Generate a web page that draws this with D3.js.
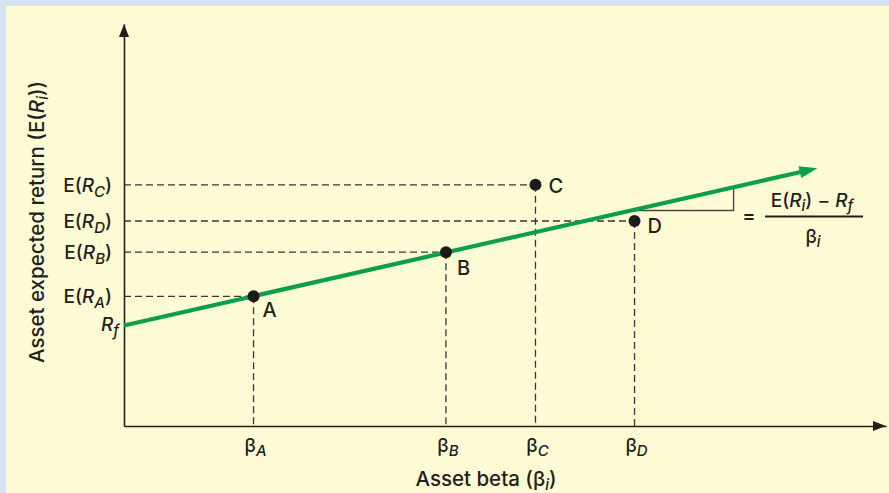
<!DOCTYPE html>
<html><head><meta charset="utf-8">
<script src="https://cdn.jsdelivr.net/npm/d3@7"></script>
<style>
body{margin:0;background:#fff}
svg{display:block}
text{font-family:Inter,"Liberation Sans",Arial,Helvetica,sans-serif;font-weight:500;fill:#231f20}
</style>
</head><body>
<svg id="chart" width="889" height="493"></svg>
<script>
// ---- data ----
const categories = ["A", "B", "C", "D"];
const betas = [0.34, 0.845, 1.08, 1.34];
const expectedReturns = [6.45, 8.65, 12.0, 10.2];
const riskFree = 5.0;
const marketPremium = 4.3;       // slope of the SML
const smlEndBeta = 1.82;
const slopeTriangleBetas = [1.33, 1.6];
const xDomain = [0, 2];
const yDomain = [0, 20];

// ---- layout ----
const W = 889, H = 493;
const svg = d3.select("#chart");
const ink = "#231f20";
const green = "#0aa04b";
const FS = 19, TFS = 20.5;

svg.append("rect").attr("width", W).attr("height", H).attr("fill", "#d4e3ed");
svg.append("rect").attr("x", 6).attr("y", 6).attr("width", W - 6).attr("height", H - 6).attr("fill", "#fffbd4");

const x = d3.scaleLinear().domain(xDomain).range([124, 886]);
const y = d3.scaleLinear().domain(yDomain).range([426, 24]);
const sml = b => riskFree + marketPremium * b;

function rich(sel, parts) {
  parts.forEach(p => {
    const t = sel.append("tspan").text(p.t);
    if (p.i) t.attr("font-style", "italic");
    if (p.sub) t.attr("font-size", p.fs || 15).attr("dy", p.dy || 5);
    if (p.up) t.attr("dy", -p.up);
  });
  return sel;
}

// dashed guides
const pts = categories.map((c, i) => ({ c, b: betas[i], r: expectedReturns[i] }));
const guides = svg.append("g").attr("stroke", "#3a3536").attr("stroke-width", 1.3).attr("stroke-dasharray", "7,4").attr("fill", "none");
pts.forEach(p => {
  guides.append("line").attr("x1", x(0)).attr("x2", x(p.b)).attr("y1", y(p.r)).attr("y2", y(p.r));
  guides.append("line").attr("x1", x(p.b)).attr("x2", x(p.b)).attr("y1", y(p.r)).attr("y2", y(0));
});

// axes
const xAxis = svg.append("g").attr("transform", `translate(0,${y(0)})`)
  .call(d3.axisBottom(x).tickValues([]).tickSizeOuter(0));
const yAxis = svg.append("g").attr("transform", `translate(${x(0)},0)`)
  .call(d3.axisLeft(y).tickValues([]).tickSizeOuter(0));
[xAxis, yAxis].forEach(a => a.select(".domain").attr("stroke", ink).attr("stroke-width", 1.6));
const xEnd = x.range()[1], yEnd = y.range()[1];
svg.append("path").attr("d", `M${xEnd},${y(0)} L${xEnd - 13},${y(0) - 5} L${xEnd - 13},${y(0) + 5} Z`).attr("fill", ink);
svg.append("path").attr("d", `M${x(0)},${yEnd} L${x(0) - 5},${yEnd + 13} L${x(0) + 5},${yEnd + 13} Z`).attr("fill", ink);

// slope triangle
const [tb0, tb1] = slopeTriangleBetas;
svg.append("path")
  .attr("d", `M${x(tb0)},${y(sml(tb0))} H${x(tb1)} V${y(sml(tb1))}`)
  .attr("fill", "none").attr("stroke", "#4a4546").attr("stroke-width", 1.4);

// SML line with arrow
const x0 = x(0), y0 = y(sml(0)), x1 = x(smlEndBeta), y1 = y(sml(smlEndBeta));
const ang = Math.atan2(y1 - y0, x1 - x0);
const headL = 18, headW = 6;
const bx = x1 - headL * Math.cos(ang), by = y1 - headL * Math.sin(ang);
svg.append("line").attr("x1", x0).attr("y1", y0).attr("x2", bx + 2 * Math.cos(ang)).attr("y2", by + 2 * Math.sin(ang))
  .attr("stroke", green).attr("stroke-width", 4.2);
svg.append("path").attr("fill", green)
  .attr("d", `M${x1},${y1} L${bx - headW * Math.sin(ang)},${by + headW * Math.cos(ang)} L${bx + headW * Math.sin(ang)},${by - headW * Math.cos(ang)} Z`);

// points
svg.append("g").selectAll("circle").data(pts).join("circle")
  .attr("cx", d => x(d.b)).attr("cy", d => y(d.r)).attr("r", 6).attr("fill", "#1c1a1b");

// point labels
const labelOffsets = { A: [9, 21], B: [11, 23], C: [13, 8], D: [13, 12] };
svg.append("g").selectAll("text").data(pts).join("text")
  .attr("x", d => x(d.b) + labelOffsets[d.c][0]).attr("y", d => y(d.r) + labelOffsets[d.c][1])
  .attr("font-size", 20).text(d => d.c);

// y labels
pts.forEach(p => {
  const t = svg.append("text").attr("x", 112).attr("y", y(p.r) + 7).attr("text-anchor", "end").attr("font-size", FS);
  rich(t, [{ t: "E(" }, { t: "R", i: true }, { t: p.c, i: true, sub: true, dy: 5 }, { t: ")", up: 5 }]);
});
const rfT = svg.append("text").attr("x", 119).attr("y", y(riskFree) + 5).attr("text-anchor", "end").attr("font-size", FS);
rich(rfT, [{ t: "R", i: true }, { t: "f", i: true, sub: true, dy: 5 }]);

// x labels
pts.forEach(p => {
  const t = svg.append("text").attr("x", x(p.b) + 2).attr("y", 452).attr("text-anchor", "middle").attr("font-size", FS);
  rich(t, [{ t: "β" }, { t: p.c, i: true, sub: true, dy: 4 }]);
});

// axis titles
const xt = svg.append("text").attr("x", 486).attr("y", 486).attr("text-anchor", "middle").attr("font-size", TFS);
rich(xt, [{ t: "Asset beta (β" }, { t: "i", i: true, sub: true, dy: 4 }, { t: ")", up: 4 }]);
const yt = svg.append("text").attr("transform", "translate(44,222) rotate(-90)").attr("text-anchor", "middle").attr("font-size", TFS);
rich(yt, [{ t: "Asset expected return (E(" }, { t: "R", i: true }, { t: "i", i: true, sub: true, dy: 4 }, { t: "))", up: 4 }]);

// slope formula
svg.append("text").attr("x", 749).attr("y", 223).attr("text-anchor", "middle").attr("font-size", 20).attr("fill", "#555").attr("font-weight", 400).text("=");
const num = svg.append("text").attr("x", 812).attr("y", 207).attr("text-anchor", "middle").attr("font-size", FS);
rich(num, [{ t: "E(" }, { t: "R", i: true }, { t: "i", i: true, sub: true, dy: 4 }, { t: ") − ", up: 4 }, { t: "R", i: true }, { t: "f", i: true, sub: true, dy: 4 }]);
svg.append("line").attr("x1", 765).attr("x2", 863).attr("y1", 216.5).attr("y2", 216.5).attr("stroke", ink).attr("stroke-width", 2);
const den = svg.append("text").attr("x", 813).attr("y", 243).attr("text-anchor", "middle").attr("font-size", FS);
rich(den, [{ t: "β" }, { t: "i", i: true, sub: true, dy: 4 }]);
</script>
</body></html>
